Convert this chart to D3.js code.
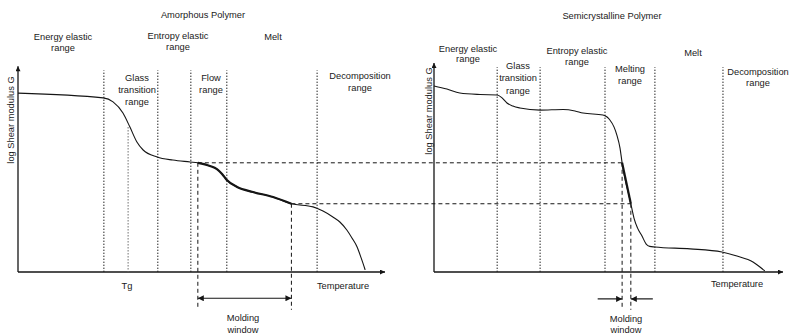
<!DOCTYPE html>
<html>
<head>
<meta charset="utf-8">
<script src="https://cdn.jsdelivr.net/npm/d3@7"></script>
<style>
  html, body { margin: 0; padding: 0; background: #fff; }
  svg { display: block; }
  text { font-family: "Liberation Sans", Arial, sans-serif; font-size: 9.3px; fill: #1a1a1a; }
</style>
</head>
<body>
<svg id="chart" width="793" height="334"></svg>
<script>
// Shear modulus curves (temperature in arbitrary units 0-100, log G in arbitrary units 0-10)
const amorphousT = [0, 23.2, 25.9, 28.6, 30.5, 32.4, 34.1, 37.9, 42.2, 46.9, 49, 52.3, 54.2, 55.6, 56.9, 59.7, 64.0, 69.5, 74.5, 80.4, 83.1, 85.8, 87.7, 89.6, 91.0, 92.4, 93.5, 94.6];
const amorphousG = [8.52, 8.29, 8.10, 7.57, 6.90, 6.19, 5.81, 5.48, 5.33, 5.24, 5.20, 5.05, 4.90, 4.67, 4.38, 4.05, 3.81, 3.57, 3.25, 3.10, 2.90, 2.62, 2.38, 2.00, 1.62, 1.19, 0.67, 0.10];

const semiT = [0, 3.7, 7.4, 13.2, 18.1, 19.5, 20.9, 22.6, 24.6, 30.4, 37.0, 40.4, 42.7, 48.4, 49.6, 50.4, 51.6, 52.4, 53.3, 53.9, 56.4, 57.3, 58.3, 59.6, 60.8, 61.8, 63.3, 73.4, 82.5, 86.8, 91.4, 93.4, 94.8];
const semiG = [8.86, 8.71, 8.52, 8.45, 8.43, 8.29, 8.05, 7.90, 7.81, 7.71, 7.74, 7.67, 7.57, 7.48, 7.38, 7.24, 6.90, 6.52, 5.90, 5.20, 3.25, 2.57, 2.10, 1.71, 1.33, 1.22, 1.19, 1.10, 0.95, 0.76, 0.48, 0.24, 0.05];

// Range boundaries (temperature) for each material
const amorphousBounds = [23.4, 38.1, 47.1, 56.9, 81.5];
const semiBounds = [18.1, 30.4, 49.0, 63.3, 82.8];
const amorphousTg = 30.0;

// Processing (molding) windows: temperature limits and the moduli bounding them
const moldingAmorphous = [49, 74.5];
const moldingSemi = [53.9, 56.4];
const moldingG = [5.2, 3.25];

const svg = d3.select("#chart");

// Shared modulus scale, one temperature scale per panel
const y = d3.scaleLinear().domain([0, 10]).range([272, 62]);
const xL = d3.scaleLinear().domain([0, 100]).range([18, 385]);
const xR = d3.scaleLinear().domain([0, 100]).range([434, 783]);

const ink = "#151515";

// arrowheads
const defs = svg.append("defs");
function marker(id, orient) {
  defs.append("marker")
    .attr("id", id).attr("viewBox", "0 0 10 10")
    .attr("refX", 10).attr("refY", 5)
    .attr("markerWidth", 8).attr("markerHeight", 6)
    .attr("markerUnits", "userSpaceOnUse")
    .attr("orient", orient)
    .append("path").attr("d", "M0,0 L10,5 L0,10 Z").attr("fill", ink);
}
marker("arr", "auto");
marker("arrS", "auto-start-reverse");
defs.append("marker")
  .attr("id", "axArr").attr("viewBox", "0 0 10 10")
  .attr("refX", 10).attr("refY", 5)
  .attr("markerWidth", 7).attr("markerHeight", 5)
  .attr("markerUnits", "userSpaceOnUse")
  .attr("orient", "auto")
  .append("path").attr("d", "M0,0 L10,5 L0,10 Z").attr("fill", ink);

const line = d3.line().curve(d3.curveMonotoneX);

function panel(x, T, G, bounds, mold, axisTop, boundTop) {
  const g = svg.append("g");
  // axes
  g.append("line")
    .attr("x1", x(0)).attr("y1", y(0)).attr("x2", x(0)).attr("y2", y(axisTop))
    .attr("stroke", ink).attr("stroke-width", 1.3).attr("marker-end", "url(#axArr)");
  g.append("line")
    .attr("x1", x(0)).attr("y1", y(0)).attr("x2", x(100)).attr("y2", y(0))
    .attr("stroke", ink).attr("stroke-width", 1.3).attr("marker-end", "url(#axArr)");
  // range boundaries
  g.selectAll("line.bound").data(bounds).join("line")
    .attr("class", "bound")
    .attr("x1", d => x(d)).attr("x2", d => x(d))
    .attr("y1", y(0)).attr("y2", y(boundTop))
    .attr("stroke", "#222").attr("stroke-width", 1)
    .attr("stroke-dasharray", "1.4,1.6");
  // molding window verticals
  g.selectAll("line.mold").data(mold).join("line")
    .attr("class", "mold")
    .attr("x1", d => x(d)).attr("x2", d => x(d))
    .attr("y1", (d, i) => y(moldingG[i])).attr("y2", y(-1.8))
    .attr("stroke", ink).attr("stroke-width", 1)
    .attr("stroke-dasharray", "4,3");
  // modulus curve
  const pts = T.map((t, i) => [x(t), y(G[i])]);
  g.append("path").attr("d", line(pts))
    .attr("fill", "none").attr("stroke", ink).attr("stroke-width", 1.1);
  const thick = T.map((t, i) => [t, G[i]]).filter(d => d[0] >= mold[0] - 1e-6 && d[0] <= mold[1] + 1e-6)
    .map(d => [x(d[0]), y(d[1])]);
  g.append("path").attr("d", line(thick))
    .attr("fill", "none").attr("stroke", ink).attr("stroke-width", 2.2);
  return g;
}

panel(xL, amorphousT, amorphousG, amorphousBounds, moldingAmorphous, 9.8, 9.6);
panel(xR, semiT, semiG, semiBounds, moldingSemi, 9.95, 9.75);

// Tg marker
svg.append("line")
  .attr("x1", xL(amorphousTg)).attr("x2", xL(amorphousTg))
  .attr("y1", y(6.9)).attr("y2", y(0))
  .attr("stroke", "#666").attr("stroke-width", 1)
  .attr("stroke-dasharray", "1.4,1.6");

// Dashed links between the two materials at the molding moduli
[0, 1].forEach(i => {
  svg.append("line")
    .attr("x1", xL(moldingAmorphous[i])).attr("x2", xR(moldingSemi[i]))
    .attr("y1", y(moldingG[i])).attr("y2", y(moldingG[i]))
    .attr("stroke", ink).attr("stroke-width", 1)
    .attr("stroke-dasharray", "4,3");
});

// Molding window arrows
svg.append("line")
  .attr("x1", xL(moldingAmorphous[0])).attr("x2", xL(moldingAmorphous[1]))
  .attr("y1", y(-1.25)).attr("y2", y(-1.25))
  .attr("stroke", ink).attr("stroke-width", 1.2)
  .attr("marker-start", "url(#arrS)").attr("marker-end", "url(#arr)");
svg.append("line")
  .attr("x1", xR(moldingSemi[0] - 7)).attr("x2", xR(moldingSemi[0]))
  .attr("y1", y(-1.28)).attr("y2", y(-1.28))
  .attr("stroke", ink).attr("stroke-width", 1.2).attr("marker-end", "url(#arr)");
svg.append("line")
  .attr("x1", xR(moldingSemi[1] + 6.3)).attr("x2", xR(moldingSemi[1]))
  .attr("y1", y(-1.28)).attr("y2", y(-1.28))
  .attr("stroke", ink).attr("stroke-width", 1.2).attr("marker-end", "url(#arr)");

// Text annotations: [lines, center x, first baseline, line spacing]
const labels = [
  [["Amorphous Polymer"], 203, 17.5, 12],
  [["Energy elastic", "range"], 63, 39.5, 11.5],
  [["Entropy elastic", "range"], 178, 38.5, 11.5],
  [["Melt"], 273, 39.5, 12],
  [["Glass", "transition", "range"], 137, 80.5, 12],
  [["Flow", "range"], 211, 80.5, 12],
  [["Decomposition", "range"], 360, 78.5, 12],
  [["Tg"], 127, 288.5, 12],
  [["Temperature"], 343, 288.5, 12],
  [["Molding", "window"], 243, 320.5, 12],
  [["Semicrystalline Polymer"], 612, 18.5, 12],
  [["Energy elastic", "range"], 468, 51.5, 10.5],
  [["Glass", "transition", "range"], 518, 68.5, 12.5],
  [["Entropy elastic", "range"], 577, 53.5, 11.5],
  [["Melt"], 693, 55.5, 12],
  [["Melting", "range"], 630, 71.5, 12],
  [["Decomposition", "range"], 758, 74.5, 11],
  [["Temperature"], 737, 286.5, 12],
  [["Molding", "window"], 626, 322, 11]
];
labels.forEach(([lines, cx, by, dy]) => {
  const t = svg.append("text").attr("text-anchor", "middle");
  lines.forEach((s, i) => t.append("tspan").attr("x", cx).attr("y", by + i * dy).text(s));
});

// Axis titles
[[10, 120], [428, 111]].forEach(([cx, cy]) => {
  svg.append("text")
    .attr("text-anchor", "middle")
    .attr("transform", `translate(${cx + 3.5},${cy}) rotate(-90)`)
    .text("log Shear modulus G");
});
</script>
</body>
</html>
